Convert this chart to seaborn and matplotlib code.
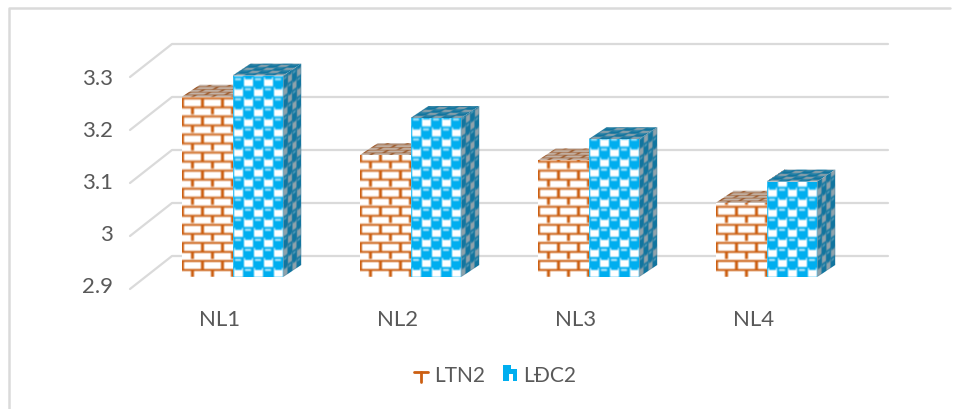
import numpy as np
import pandas as pd
import seaborn as sns
import matplotlib
matplotlib.use("Agg")
import matplotlib.pyplot as plt
from matplotlib.legend_handler import HandlerBase
from matplotlib.lines import Line2D
from matplotlib.patches import Patch, Polygon
from matplotlib.path import Path
from matplotlib.transforms import Affine2D, IdentityTransform, ScaledTranslation

groups = ["NL1", "NL2", "NL3", "NL4"]
series_names = ["LTN2", "LĐC2"]
ltn2_values = [3.24, 3.13, 3.12, 3.04]
ldc2_values = [3.28, 3.20, 3.16, 3.08]
y_ticks = [2.9, 3.0, 3.1, 3.2, 3.3]
y_tick_labels = ["2.9", "3", "3.1", "3.2", "3.3"]

ORANGE = "#CC5F12"
BLUE = "#00AEEF"
GRID = "#DADADA"
TEXT = "#595959"
W, H = 960, 410
DEPTH = (18, 12)


def hex_rgb(c):
    return np.array(matplotlib.colors.to_rgb(c)) * 255


def soften(t):
    """Small wrap-around smoothing so the tile edges are not razor sharp."""
    t = t.astype(float)
    for axis in (0, 1):
        t = (np.roll(t, 1, axis) + 2 * t + np.roll(t, -1, axis)) / 4
    return t.astype(np.uint8)


def brick_tile(line, fill):
    """One repeat of the brick pattern, row 0 at the bottom."""
    t = np.tile(hex_rgb(fill), (18, 20, 1))
    line = hex_rgb(line)
    t[[6, 7, 15, 16], :] = line
    t[0:7, 9:12] = line
    t[8:16, 19:] = line
    t[8:16, :2] = line
    return soften(t)


def sphere_tile(blue, white, glint):
    """One repeat of the checkered sphere pattern, row 0 at the bottom."""
    t = np.tile(hex_rgb(blue), (20, 20, 1))
    white = hex_rgb(white)
    glint = hex_rgb(glint)
    t[0:9, 1:10] = white
    t[10:19, 11:20] = white
    # pale glint on the sphere in each remaining checker cell
    for r0, c0 in ((0, 10), (10, 0)):
        t[r0 + 6:r0 + 8, c0 + 2:c0 + 8] = glint
    # spheres bulge slightly into the white cells below them
    t[7:9, 2:9] = hex_rgb(blue)
    t[17:19, 12:19] = hex_rgb(blue)
    return soften(t)


def paint_face(ax, tile, corners, ex, ey):
    """Fill a quadrilateral (display px) with a tile, columns along ex, rows along ey."""
    ox, oy = corners[0]
    tex = np.tile(tile, (20, 8, 1))
    tr = (Affine2D().translate(0.5, 0.5)
          + Affine2D.from_values(ex[0], ex[1], ey[0], ey[1], ox, oy))
    im = ax.imshow(tex, origin="lower", aspect="auto", interpolation="bilinear",
                   transform=tr, zorder=3)
    im.set_clip_box(ax.figure.bbox)
    im.set_clip_path(Path(np.array(corners + [corners[0]])), IdentityTransform())


def draw_block(ax, bar, front, side, top):
    """Dress a bar as a textured block with top and side faces."""
    x0, x1 = bar.get_x(), bar.get_x() + bar.get_width()
    floor = ax.get_ylim()[0]
    (px0, py0), (px1, py1) = ax.transData.transform([(x0, floor), (x1, bar.get_height())])
    dx, dy = DEPTH
    paint_face(ax, top, [(px0, py1), (px1, py1), (px1 + dx, py1 + dy), (px0 + dx, py1 + dy)],
               (1, 0), (0.45, 0.3))
    paint_face(ax, side, [(px1, py0), (px1 + dx, py0 + dy), (px1 + dx, py1 + dy), (px1, py1)],
               (0.45, 0.3), (0, 1))
    paint_face(ax, front, [(px0, py0), (px1, py0), (px1, py1), (px0, py1)],
               (1, 0), (0, 1))


class BrickKey(HandlerBase):
    def create_artists(self, legend, orig, xd, yd, width, height, fontsize, trans):
        bar = Line2D([0, width], [height * 0.62] * 2, color=ORANGE, lw=2, transform=trans)
        stem = Line2D([width / 2] * 2, [height * 0.62, -height * 0.05], color=ORANGE, lw=2,
                      transform=trans)
        return [bar, stem]


class SphereKey(HandlerBase):
    def create_artists(self, legend, orig, xd, yd, width, height, fontsize, trans):
        w, h = width, height * 1.1
        outline = [(0, 0), (0, h), (w * 0.6, h), (w * 0.6, h * 0.72), (w, h * 0.72),
                   (w, 0), (w * 0.72, 0), (w * 0.72, h * 0.42), (w * 0.4, h * 0.42), (w * 0.4, 0)]
        return [Polygon(outline, closed=True, facecolor=BLUE, edgecolor="none", transform=trans)]


sns.set_theme(style="white")
plt.rcParams["font.family"] = ["Lato", "DejaVu Sans"]

fig = plt.figure(figsize=(W / 100, H / 100), dpi=100, facecolor="white")
ax = fig.add_axes([143.5 / W, (H - 278) / H, 712 / W, 212 / H])
ax.patch.set_alpha(0)

frame = pd.DataFrame({
    "group": groups * 2,
    "series": np.repeat(series_names, len(groups)),
    "value": ltn2_values + ldc2_values,
})
sns.barplot(data=frame, x="group", y="value", hue="series", order=groups,
            hue_order=series_names, palette=[ORANGE, BLUE], width=0.57, gap=0,
            linewidth=0, legend=False, ax=ax)

ax.set_xlim(-0.5, 3.5)
ax.set_ylim(y_ticks[0], y_ticks[-1])
ax.set_xlabel("")
ax.set_ylabel("")
sns.despine(ax=ax, left=True, bottom=True)

# Category and value labels sit on the front edge of the floor
ax.set_yticks(y_ticks, y_tick_labels)
ax.tick_params(axis="y", length=0, pad=22, labelsize=16, labelcolor=TEXT)
ax.tick_params(axis="x", length=0, pad=23, labelsize=16, labelcolor=TEXT)
for lab, v in zip(ax.get_yticklabels(), y_ticks):
    drop = (7 + (v - y_ticks[0]) * 10) / 100
    lab.set_transform(lab.get_transform() + ScaledTranslation(0, -drop, fig.dpi_scale_trans))
for lab in ax.get_xticklabels():
    lab.set_transform(lab.get_transform() + ScaledTranslation(-13 / 100, 0, fig.dpi_scale_trans))

# Back-wall gridlines with their diagonal run along the side wall
for v in y_ticks:
    wall_y = ax.transData.transform((0, v))[1] + 21
    ax.plot([130, 172, 888], [wall_y - 33, wall_y, wall_y], color=GRID, lw=1.6,
            transform=IdentityTransform(), clip_on=False, zorder=0)

brick_front = brick_tile(ORANGE, "#FFFFFF")
brick_dark = brick_tile("#9A5322", "#C4B4A8")
sphere_front = sphere_tile(BLUE, "#FFFFFF", "#BDEBFB")
sphere_dark = sphere_tile("#11759F", "#8FA2AB", "#5C9DB8")

n = len(groups)
for i, bar in enumerate(ax.patches[:2 * n]):
    if i < n:
        draw_block(ax, bar, brick_front, brick_dark, brick_dark)
    else:
        draw_block(ax, bar, sphere_front, sphere_dark, sphere_dark)

ax.set_xlim(-0.5, 3.5)
ax.set_ylim(y_ticks[0], y_ticks[-1])

# Chart-area border: left and top edges only
fig.add_artist(Line2D([9, 9, 950], [0, H - 9, H - 9], color=GRID, lw=1.8,
                      transform=IdentityTransform()))

key_brick = Patch(color=ORANGE)
key_sphere = Patch(color=BLUE)
fig.legend([key_brick, key_sphere], series_names, ncol=2, frameon=False,
           loc="center", bbox_to_anchor=(495 / W, (H - 376) / H),
           fontsize=15, labelcolor=TEXT, handlelength=0.68, handletextpad=0.3,
           columnspacing=0.85, handler_map={key_brick: BrickKey(), key_sphere: SphereKey()})

fig.savefig("out.png", dpi=100, facecolor="white")
